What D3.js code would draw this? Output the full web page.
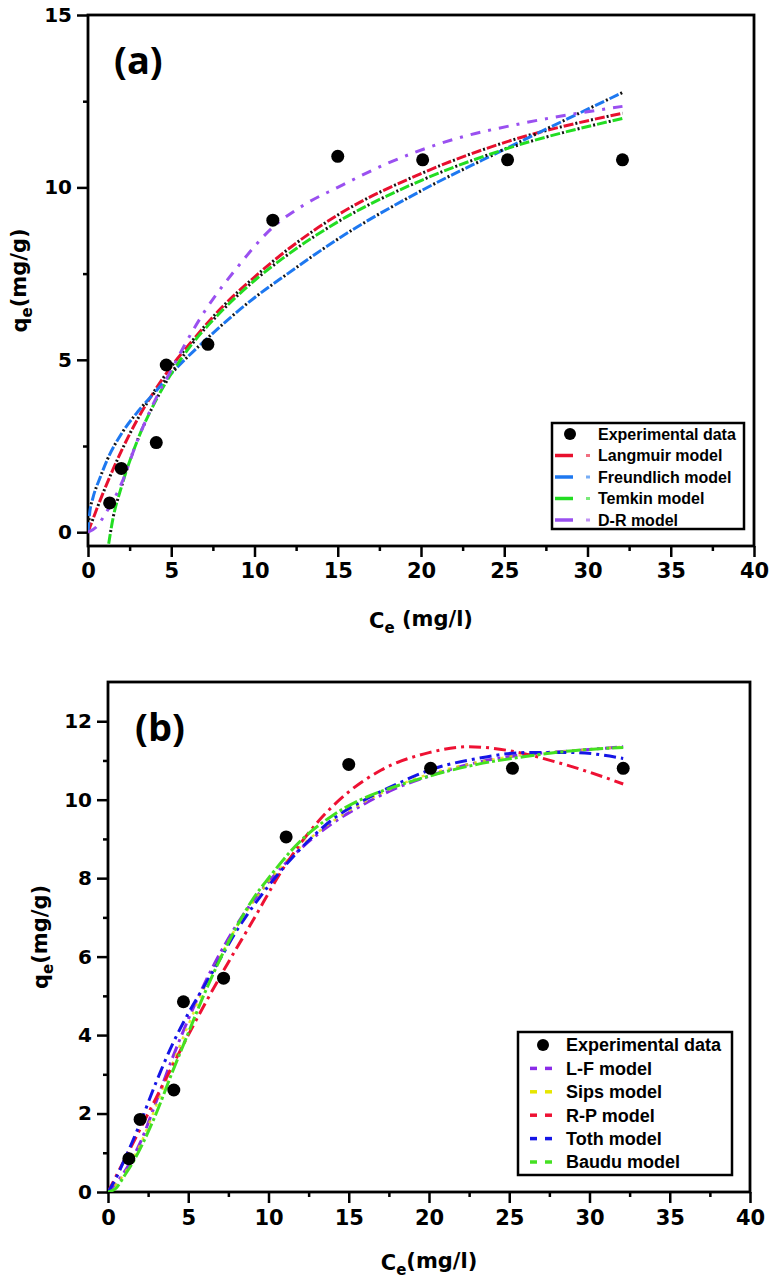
<!DOCTYPE html>
<html><head><meta charset="utf-8">
<script src="https://cdn.jsdelivr.net/npm/d3@7"></script>
<style>body{margin:0;background:#fff}</style></head>
<body>
<svg id="c" width="774" height="1283" xmlns="http://www.w3.org/2000/svg"></svg>
<script>
// ---------- DATA ----------
const expC = [1.3, 2.0, 4.1, 4.7, 7.2, 11.1, 15.0, 20.1, 25.2, 32.1];
const expQ = [0.85, 1.85, 2.6, 4.85, 5.45, 9.05, 10.9, 10.8, 10.8, 10.8];

const xTicks = [0, 5, 10, 15, 20, 25, 30, 35, 40];
const yTicksA = [0, 5, 10, 15];
const yTicksB = [0, 2, 4, 6, 8, 10, 12];

// panel (a) model curves [Ce, qe]
const langmuir = [[0,0],[1,1.25],[2,2.35],[3,3.3],[4,4.1],[5,4.8],[6,5.4],[8,6.5],[10,7.4],[12,8.2],[15,9.2],[20,10.4],[25,11.3],[32.1,12.15]];
const freundlich = [[0,0],[0.1,0.55],[0.3,1.0],[0.7,1.55],[1.2,2.15],[2,2.85],[3,3.5],[4,4.05],[5,4.6],[7,5.55],[10,6.8],[12,7.5],[15,8.5],[20,9.9],[25,11.1],[32.1,12.75]];
const temkin = [[1.1,-0.8],[1.5,0.4],[2,1.3],[3,2.7],[4,3.75],[5,4.6],[6,5.3],[8,6.4],[10,7.3],[12,8.05],[15,9.0],[20,10.2],[25,11.1],[32.1,12.0]];
const dr = [[0,0],[0.5,0.15],[1,0.5],[2,1.4],[3,2.7],[4,3.8],[5,4.7],[6,5.6],[7,6.4],[9,7.7],[11,8.8],[13,9.5],[15,10.0],[18,10.7],[22,11.4],[26,11.85],[32.1,12.35]];

// panel (b) model curves [Ce, qe]
const lf = [[0,0],[1,0.5],[2,1.25],[3,2.3],[4,3.4],[5,4.4],[6,5.3],[7,6.1],[8,6.8],[10,7.9],[12,8.75],[14,9.4],[16,9.9],[18,10.3],[20,10.6],[23,10.95],[26,11.15],[29,11.25],[32.1,11.35]];
const sips = [[0,0],[1,0.45],[2,1.2],[3,2.2],[4,3.25],[5,4.25],[6,5.2],[7,6.0],[8,6.75],[10,7.9],[12,8.8],[14,9.45],[16,9.95],[18,10.35],[20,10.65],[23,10.95],[26,11.15],[29,11.25],[32.1,11.35]];
const rp = [[0,0],[1,0.8],[2,1.6],[3,2.4],[4,3.2],[5,4.0],[7,5.5],[9,6.9],[11,8.3],[13,9.4],[15,10.2],[17,10.75],[20,11.2],[22.5,11.35],[25,11.25],[28,10.95],[30,10.7],[32.1,10.4]];
const toth = [[0,0],[0.5,0.35],[1,0.8],[2,1.75],[3,2.8],[4,3.75],[5,4.55],[6,5.25],[7,5.95],[8,6.65],[10,7.8],[12,8.75],[14,9.5],[16,10.0],[18,10.4],[20,10.75],[23,11.05],[26,11.2],[29,11.2],[32.1,11.05]];
const baudu = [[0,0],[0.5,0.1],[1,0.4],[1.5,0.72],[2,1.1],[3,2.0],[4,3.05],[5,4.05],[6,5.05],[7,5.95],[8,6.75],[9,7.45],[10,8.0],[12,8.95],[14,9.6],[16,10.05],[18,10.35],[20,10.6],[23,10.9],[26,11.1],[29,11.25],[32.1,11.33]];

const legendA = ["Experimental data", "Langmuir model", "Freundlich model", "Temkin model", "D-R model"];
const legendB = ["Experimental data", "L-F model", "Sips model", "R-P model", "Toth model", "Baudu model"];

// ---------- DRAW ----------
const svg = d3.select("#c");
const TICKFONT = "'DejaVu Sans', sans-serif";

function panel(o) {
  const g = svg.append("g");
  const x = d3.scaleLinear().domain([0, 40]).range([o.left, o.right]);
  const y = d3.scaleLinear().domain(o.yDomain).range([o.bottom, o.top]);
  const clipId = "clip" + o.id;
  svg.append("clipPath").attr("id", clipId).append("rect")
    .attr("x", o.left).attr("y", o.top).attr("width", o.right - o.left).attr("height", o.bottom - o.top);

  // minor ticks
  const xMinor = d3.range(2.5, 40, 5);
  g.append("g").attr("transform", `translate(0,${o.bottom})`)
    .call(d3.axisBottom(x).tickValues(xMinor).tickSize(5).tickFormat(""))
    .call(a => a.select(".domain").remove())
    .selectAll("line").attr("stroke", "#000").attr("stroke-width", 2.5);
  g.append("g").attr("transform", `translate(${o.left},0)`)
    .call(d3.axisLeft(y).tickValues(o.yMinor).tickSize(5).tickFormat(""))
    .call(a => a.select(".domain").remove())
    .selectAll("line").attr("stroke", "#000").attr("stroke-width", 2.5);

  // major ticks
  const xa = g.append("g").attr("transform", `translate(0,${o.bottom})`)
    .call(d3.axisBottom(x).tickValues(xTicks).tickSize(11).tickPadding(o.xPad).tickFormat(d3.format("d")));
  xa.select(".domain").remove();
  xa.selectAll("line").attr("stroke", "#000").attr("stroke-width", 2.5);
  xa.selectAll("text").attr("font-family", TICKFONT).attr("font-weight", "bold")
    .attr("font-size", 21).attr("fill", "#000");

  const ya = g.append("g").attr("transform", `translate(${o.left},0)`)
    .call(d3.axisLeft(y).tickValues(o.yTicks).tickSize(11).tickPadding(5).tickFormat(d3.format("d")));
  ya.select(".domain").remove();
  ya.selectAll("line").attr("stroke", "#000").attr("stroke-width", 2.5);
  ya.selectAll("text").attr("font-family", TICKFONT).attr("font-weight", "bold")
    .attr("font-size", 20).attr("fill", "#000");

  // frame
  g.append("rect").attr("x", o.left).attr("y", o.top)
    .attr("width", o.right - o.left).attr("height", o.bottom - o.top)
    .attr("fill", "none").attr("stroke", "#000").attr("stroke-width", 2.8);

  // curves
  const line = d3.line().x(d => x(d[0])).y(d => y(d[1])).curve(d3.curveMonotoneX);
  const cg = g.append("g").attr("clip-path", `url(#${clipId})`);
  o.series.forEach(s => {
    cg.append("path").datum(s.data).attr("d", line).attr("fill", "none")
      .attr("stroke", s.color).attr("stroke-width", s.w || 3).attr("stroke-dasharray", s.dash)
      .attr("stroke-linecap", "butt").attr("opacity", s.op || 1);
    if (s.dotColor) {
      cg.append("path").datum(s.data).attr("d", line).attr("fill", "none")
        .attr("stroke", s.dotColor).attr("stroke-width", 3).attr("stroke-dasharray", s.dotDash);
    }
  });

  // experimental points
  g.append("g").selectAll("circle").data(expC).join("circle")
    .attr("cx", (d) => x(d)).attr("cy", (d, i) => y(expQ[i])).attr("r", 6.5).attr("fill", "#000");

  // panel letter
  g.append("text").attr("x", o.letterX).attr("y", o.letterY).text(o.letter)
    .attr("font-family", "'Open Sans', sans-serif").attr("font-weight", "bold")
    .attr("font-size", 38).attr("fill", "#000");

  // axis titles
  const yt = g.append("text")
    .attr("transform", `translate(${o.yTitleX},${(o.top + o.bottom) / 2}) rotate(-90)`)
    .attr("text-anchor", "middle").attr("dy", "0.35em")
    .attr("font-family", TICKFONT).attr("font-weight", "bold").attr("font-size", 21).attr("fill", "#000");
  yt.append("tspan").text("q");
  yt.append("tspan").text("e").attr("font-size", 15).attr("dy", "0.3em");
  yt.append("tspan").text("(mg/g)").attr("dy", "-0.3em");

  const xt = g.append("text").attr("x", o.xTitleX).attr("y", o.xTitleY)
    .attr("text-anchor", "middle")
    .attr("font-family", TICKFONT).attr("font-weight", "bold").attr("font-size", 21).attr("fill", "#000");
  xt.append("tspan").text("C");
  xt.append("tspan").text("e").attr("font-size", 15).attr("dy", "0.3em");
  xt.append("tspan").text(o.xTitleRest).attr("dy", "-0.3em");

  // legend
  const L = o.legend;
  const lg = g.append("g");
  lg.append("rect").attr("x", L.x0).attr("y", L.y0).attr("width", L.x1 - L.x0).attr("height", L.y1 - L.y0)
    .attr("fill", "#fff").attr("stroke", "#000").attr("stroke-width", 2.5);
  L.labels.forEach((lab, i) => {
    const yy = L.firstRow + i * L.step;
    if (i === 0) {
      lg.append("circle").attr("cx", L.markX).attr("cy", yy).attr("r", 6).attr("fill", "#000");
    } else {
      const s = o.series[i - 1];
      L.sample(lg, s, yy);
    }
    lg.append("text").attr("x", L.textX).attr("y", yy).attr("dy", "0.35em").text(lab)
      .attr("font-family", "'Liberation Sans', Arial, sans-serif").attr("font-weight", "bold")
      .attr("font-size", L.fs).attr("fill", "#000");
  });
}

panel({
  id: "A", left: 88, right: 754, top: 15, bottom: 546,
  yDomain: [-0.4, 15], yTicks: yTicksA, yMinor: [2.5, 7.5, 12.5], xPad: 6,
  letter: "(a)", letterX: 114, letterY: 74,
  yTitleX: 20, xTitleX: 421, xTitleY: 628, xTitleRest: " (mg/l)",
  series: [
    { data: langmuir, color: "#e8102e", dash: "10,6", dotColor: "#111", dotDash: "0,12,2,2" },
    { data: freundlich, color: "#1e78f0", dash: "10,6", dotColor: "#111", dotDash: "0,12,2,2" },
    { data: temkin, color: "#22dd22", dash: "10,6", dotColor: "#111", dotDash: "0,12,2,2" },
    { data: dr, color: "#9a50f0", dash: "10,8,3,8" }
  ],
  legend: {
    x0: 552, x1: 744, y0: 423, y1: 529, firstRow: 434, step: 21.5, markX: 570, textX: 598, fs: 16,
    labels: legendA,
    sample: (lg, s, yy) => {
      lg.append("line").attr("x1", 555).attr("x2", 573).attr("y1", yy).attr("y2", yy)
        .attr("stroke", s.color).attr("stroke-width", 3.5);
      lg.append("line").attr("x1", 586).attr("x2", 590).attr("y1", yy).attr("y2", yy)
        .attr("stroke", s.color).attr("stroke-width", 3).attr("opacity", 0.6);
    }
  }
});

panel({
  id: "B", left: 108, right: 750, top: 682, bottom: 1192,
  yDomain: [0, 13], yTicks: yTicksB, yMinor: [1, 3, 5, 7, 9, 11], xPad: 7,
  letter: "(b)", letterX: 135, letterY: 741,
  yTitleX: 41, xTitleX: 429, xTitleY: 1270, xTitleRest: "(mg/l)",
  series: [
    { data: lf, color: "#8a2be8", dash: "12,5,3,5" },
    { data: sips, color: "#e6e600", dash: "3,6", w: 2.5, op: 0.8 },
    { data: rp, color: "#ee1133", dash: "12,5,3,5" },
    { data: toth, color: "#1515e6", dash: "12,5,3,5" },
    { data: baudu, color: "#44e022", dash: "14,3,3,3" }
  ],
  legend: {
    x0: 518, x1: 732, y0: 1032, y1: 1175, firstRow: 1045, step: 23.4, markX: 543, textX: 566, fs: 18,
    labels: legendB,
    sample: (lg, s, yy) => {
      lg.append("line").attr("x1", 530).attr("x2", 537).attr("y1", yy).attr("y2", yy)
        .attr("stroke", s.color).attr("stroke-width", 3.5);
      lg.append("line").attr("x1", 545).attr("x2", 552).attr("y1", yy).attr("y2", yy)
        .attr("stroke", s.color).attr("stroke-width", 3.5);
    }
  }
});
</script>
</body></html>
